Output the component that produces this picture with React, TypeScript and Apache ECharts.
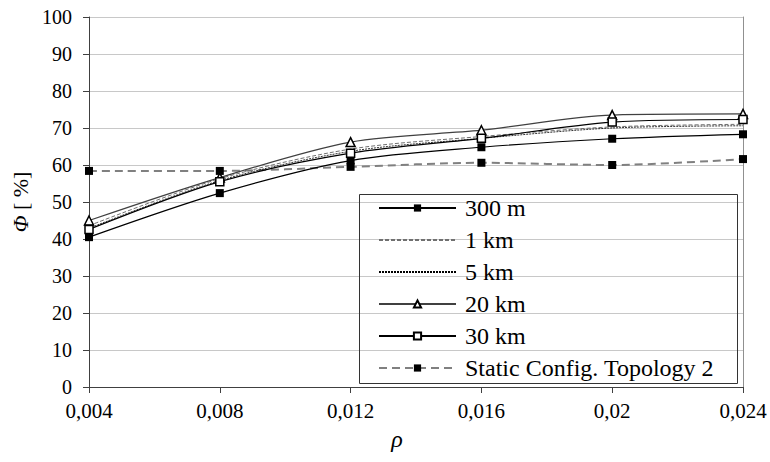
import React, { useEffect, useRef } from "react";
import * as echarts from "echarts";

const rhoLabels = ["0,004", "0,008", "0,012", "0,016", "0,02", "0,024"];
const s300m = [40.5, 52.4, 61.2, 64.8, 67.1, 68.3];
const s1km = [43.6, 56.3, 64.3, 67.7, 70.3, 71.0];
const s5km = [42.9, 55.8, 63.7, 67.2, 70.0, 70.6];
const s20km = [45.0, 56.6, 66.2, 69.4, 73.5, 73.8];
const s30km = [42.6, 55.5, 63.2, 67.2, 71.6, 72.3];
const sStatic = [58.4, 58.4, 59.5, 60.6, 60.0, 61.6];

const FONT = "'Liberation Serif', 'Times New Roman', serif";

export default function App() {
  const ref = useRef<HTMLDivElement>(null);
  useEffect(() => {
    if (!ref.current) return;
    const chart = echarts.init(ref.current, undefined, { renderer: "svg" });
    const smooth = 0.3;
    chart.setOption({
      animation: false,
      backgroundColor: "#fff",
      textStyle: { fontFamily: FONT, color: "#000" },
      grid: { left: 89, right: 27, top: 17, bottom: 75 },
      xAxis: {
        type: "category",
        data: rhoLabels,
        boundaryGap: false,
        axisLine: { lineStyle: { color: "#404040", width: 1 } },
        axisTick: { show: true, length: 6, lineStyle: { color: "#404040" } },
        axisLabel: { fontFamily: FONT, fontSize: 21, color: "#000", margin: 13 },
        splitLine: { show: false },
        name: "ρ",
        nameLocation: "middle",
        nameGap: 40,
        nameTextStyle: { fontFamily: FONT, fontSize: 24, fontStyle: "italic", color: "#000", padding: [0, 38, 0, 0] },
      },
      yAxis: [
        {
          type: "value",
          min: 0,
          max: 100,
          interval: 10,
          axisLine: { show: true, lineStyle: { color: "#404040", width: 1 } },
          axisTick: { show: true, length: 6, lineStyle: { color: "#404040" } },
          axisLabel: { fontFamily: FONT, fontSize: 20, color: "#000", margin: 17 },
          splitLine: { show: true, lineStyle: { color: "#c8c8c8", width: 1 } },
          name: "{i|Φ} [ %]",
          nameLocation: "middle",
          nameGap: 58,
          nameTextStyle: {
            fontFamily: FONT,
            fontSize: 22,
            color: "#000",
            rich: { i: { fontFamily: FONT, fontSize: 22, fontStyle: "italic", color: "#000" } },
          },
        },
        {
          type: "value",
          min: 0,
          max: 100,
          interval: 10,
          position: "right",
          axisLine: { show: true, lineStyle: { color: "#909090", width: 1 } },
          axisTick: { show: false },
          axisLabel: { show: false },
          splitLine: { show: false },
        },
      ],
      legend: {
        orient: "vertical",
        left: 378,
        top: 192,
        padding: 0,
        itemGap: 0,
        itemWidth: 77,
        itemHeight: 9,
        textStyle: { fontFamily: FONT, fontSize: 24, color: "#000", lineHeight: 32, padding: [0, 0, 0, 4] },
        data: [
          { name: "300 m" },
          { name: "1 km", itemStyle: { opacity: 0 } },
          { name: "5 km", itemStyle: { opacity: 0 } },
          { name: "20 km" },
          { name: "30 km" },
          { name: "Static Config. Topology 2" },
        ],
      },
      graphic: [
        {
          type: "rect",
          left: 357,
          top: 192,
          shape: { width: 378, height: 189 },
          style: { fill: "none", stroke: "#333", lineWidth: 1 },
          z: 10,
        },
      ],
      series: [
        {
          name: "Static Config. Topology 2",
          type: "line",
          data: sStatic,
          smooth,
          symbol: "rect",
          symbolSize: 8,
          itemStyle: { color: "#000" },
          lineStyle: { color: "#808080", width: 2, type: [8, 5] },
          z: 2,
        },
        {
          name: "1 km",
          type: "line",
          data: s1km,
          smooth,
          symbol: "none",
          itemStyle: { color: "#707070" },
          lineStyle: { color: "#707070", width: 1, type: [4, 2] },
        },
        {
          name: "5 km",
          type: "line",
          data: s5km,
          smooth,
          symbol: "none",
          itemStyle: { color: "#000" },
          lineStyle: { color: "#000", width: 0.8, type: [2, 1] },
        },
        {
          name: "300 m",
          type: "line",
          data: s300m,
          smooth,
          symbol: "rect",
          symbolSize: 8,
          itemStyle: { color: "#000" },
          lineStyle: { color: "#000", width: 1.2 },
        },
        {
          name: "20 km",
          type: "line",
          data: s20km,
          smooth,
          symbol: "triangle",
          symbolSize: 9,
          itemStyle: { color: "#fff", borderColor: "#000", borderWidth: 1.5 },
          lineStyle: { color: "#404040", width: 1.2 },
        },
        {
          name: "30 km",
          type: "line",
          data: s30km,
          smooth,
          symbol: "rect",
          symbolSize: 8,
          itemStyle: { color: "#fff", borderColor: "#000", borderWidth: 1.5 },
          lineStyle: { color: "#000", width: 1.2 },
        },
      ],
    });
    return () => chart.dispose();
  }, []);
  return <div ref={ref} style={{ width: 770, height: 462, position: "absolute", left: 0, top: 0 }} />;
}
